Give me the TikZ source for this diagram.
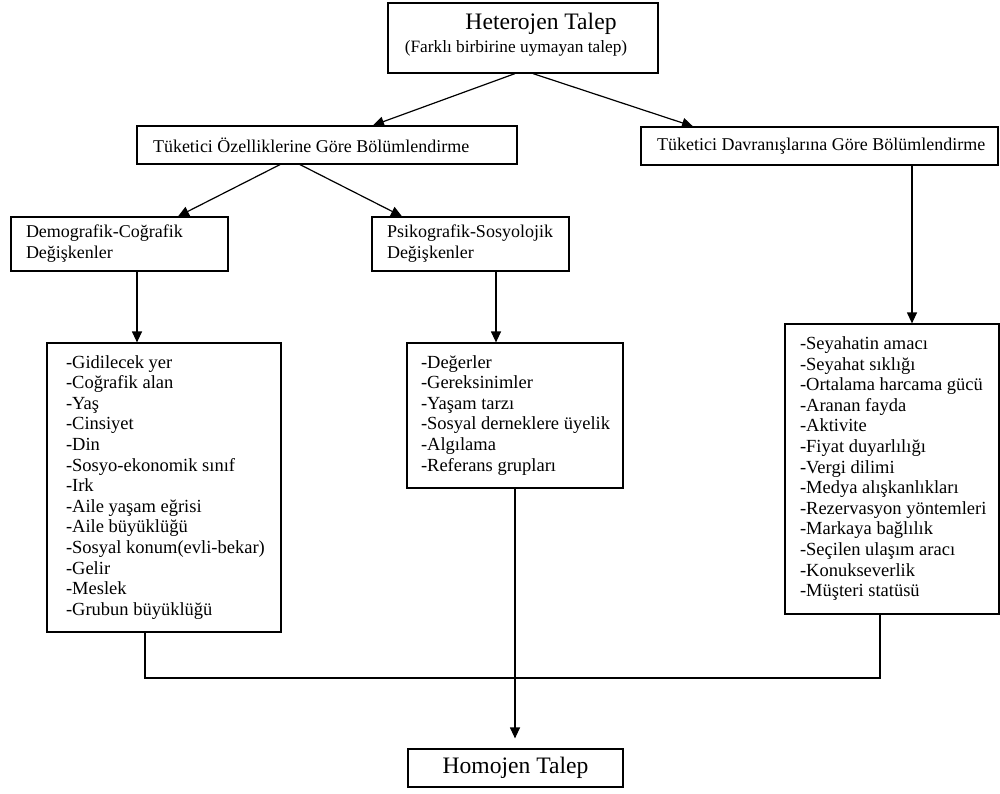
\documentclass[tikz,border=0pt]{standalone}
\usepackage{fontspec}
\setmainfont{Liberation Serif}
\usetikzlibrary{arrows.meta,calc}
\tikzset{
  box/.style={draw=black, line width=1.2pt, inner sep=0pt, rectangle},
  conn/.style={draw=black, line width=1.2pt},
  arr/.style={conn, -{Triangle[length=11pt,width=10pt]}},
  lfont/.style={font=\fontsize{18.5}{20.6}\selectfont},
  hfont/.style={font=\fontsize{18}{21}\selectfont},
}
\newcommand{\lbox}[3]{\makebox[#1][l]{\hspace*{#2}#3}}
\begin{document}
\begin{tikzpicture}[x=1pt,y=-1pt]
\useasboundingbox (0,0) rectangle (1000,794);

% top
\node[box, minimum width=270pt, minimum height=70pt] (het) at (523,38)
  {\fontsize{17.3}{18}\selectfont\hspace*{-14pt}\begin{tabular}{@{}c@{}}{\fontsize{23.6}{24}\selectfont\hspace*{50pt}Heterojen Talep}\\[5pt](Farklı birbirine uymayan talep)\rule[-11pt]{0pt}{0pt}\end{tabular}};

% level 2
\node[box, hfont, minimum width=380pt, minimum height=38pt] (ozl) at (327,145)
  {\lbox{380pt}{16pt}{Tüketici Özelliklerine Göre Bölümlendirme}};
\node[box, hfont, minimum width=357pt, minimum height=38pt] (dav) at (819.5,146)
  {\lbox{357pt}{16pt}{Tüketici Davranışlarına Göre Bölümlendirme}};

% level 3
\node[box, hfont, minimum width=217pt, minimum height=54pt] (dem) at (119.5,244)
  {\lbox{217pt}{15pt}{\begin{tabular}{@{}l@{}}Demografik-Coğrafik\\Değişkenler\end{tabular}}};
\node[box, hfont, minimum width=197pt, minimum height=54pt] (psi) at (470.5,244)
  {\lbox{197pt}{15pt}{\begin{tabular}{@{}l@{}}Psikografik-Sosyolojik\\Değişkenler\end{tabular}}};

% lists
\node[box, lfont, minimum width=234pt, minimum height=289pt] (ll) at (164,487.5)
  {\lbox{234pt}{19pt}{\begin{tabular}{@{}l@{}}
  -Gidilecek yer\\-Coğrafik alan\\-Yaş\\-Cinsiyet\\-Din\\-Sosyo-ekonomik sınıf\\-Irk\\-Aile yaşam eğrisi\\-Aile büyüklüğü\\-Sosyal konum(evli-bekar)\\-Gelir\\-Meslek\\-Grubun büyüklüğü
  \end{tabular}}};
\node[box, lfont, minimum width=216pt, minimum height=145pt] (ml) at (515,415.5)
  {\lbox{216pt}{14pt}{\begin{tabular}{@{}l@{}}
  -Değerler\\-Gereksinimler\\-Yaşam tarzı\\-Sosyal derneklere üyelik\\-Algılama\\-Referans grupları
  \end{tabular}}};
\node[box, lfont, minimum width=214pt, minimum height=290pt] (rl) at (892,469)
  {\lbox{214pt}{15pt}{\begin{tabular}{@{}l@{}}
  -Seyahatin amacı\\-Seyahat sıklığı\\-Ortalama harcama gücü\\-Aranan fayda\\-Aktivite\\-Fiyat duyarlılığı\\-Vergi dilimi\\-Medya alışkanlıkları\\-Rezervasyon yöntemleri\\-Markaya bağlılık\\-Seçilen ulaşım aracı\\-Konukseverlik\\-Müşteri statüsü
  \end{tabular}}};

% bottom
\node[box, minimum width=215pt, minimum height=38pt, font=\fontsize{23.6}{24}\selectfont] (hom) at (515.5,768) {Homojen Talep};

\coordinate (merge) at (515,678);

% connectors
\draw[arr] ([xshift=-8pt]het.south) -- ([xshift=46pt]ozl.north);
\draw[arr] ([xshift=10pt]het.south) -- ([xshift=-126.5pt]dav.north);
\draw[arr] ([xshift=-47pt]ozl.south) -- ([xshift=58.5pt]dem.north);
\draw[arr] ([xshift=-27pt]ozl.south) -- ([xshift=-68.5pt]psi.north);
\draw[arr] ([xshift=92.5pt]dav.south) -- ([xshift=92.5pt]dav.south |- rl.north);
\draw[arr] ([xshift=17.5pt]dem.south) -- ([xshift=17.5pt]dem.south |- ll.north);
\draw[arr] ([xshift=25.5pt]psi.south) -- ([xshift=25.5pt]psi.south |- ml.north);
\draw[arr, shorten >=10pt] (ml.south) -- (ml.south |- hom.north);
\draw[conn] ([xshift=-19pt]ll.south) |- (merge) -| ([xshift=-12pt]rl.south);
\end{tikzpicture}
\end{document}
